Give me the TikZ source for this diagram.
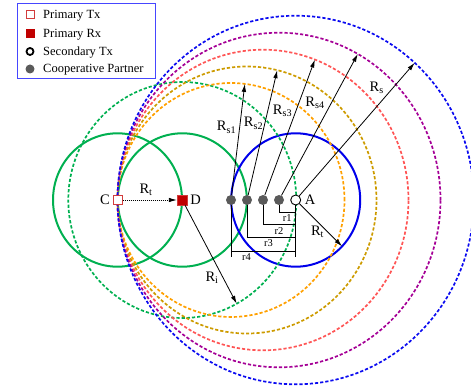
\documentclass[tikz,border=0pt]{standalone}
\usepackage{fontspec}
\setmainfont{Liberation Serif}
\usetikzlibrary{arrows.meta,calc}
\definecolor{cgreen}{RGB}{0,176,80}
\definecolor{cblue}{RGB}{0,0,235}
\definecolor{corange}{RGB}{255,160,0}
\definecolor{cgold}{RGB}{205,155,0}
\definecolor{cred}{RGB}{255,85,85}
\definecolor{cpurple}{RGB}{165,0,150}
\definecolor{cdblue}{RGB}{10,10,240}
\definecolor{cdarkred}{RGB}{192,0,0}
\definecolor{cedgered}{RGB}{210,60,60}
\definecolor{cgray}{RGB}{90,90,90}
\definecolor{clegend}{RGB}{70,70,255}
\tikzset{
 solidring/.style={line width=2pt},
 dashring/.style={line width=1.7pt, dash pattern=on 3.2pt off 2pt},
 arr/.style={line width=0.8pt, -{Latex[length=8pt,width=4.5pt]}},
 dimline/.style={line width=0.8pt},
 txsq/.style={draw=cedgered, fill=white, line width=1pt, minimum size=9pt, inner sep=0pt},
 rxsq/.style={draw=cedgered, fill=cdarkred, line width=0.8pt, minimum size=10pt, inner sep=0pt},
 coop/.style={circle, fill=cgray, minimum size=10pt, inner sep=0pt},
 sectx/.style={circle, draw=black, fill=white, line width=0.9pt, minimum size=10pt, inner sep=0pt},
 lbl/.style={font=\fontsize{14.5}{16}\selectfont, inner sep=0pt, anchor=base},
 rlbl/.style={font=\fontsize{10.5}{12}\selectfont, inner sep=0pt, anchor=base},
 legtext/.style={font=\fontsize{12.5}{14}\selectfont, anchor=base west, inner sep=0pt},
}
\begin{document}
\begin{tikzpicture}[x=1pt,y=-1pt]
\useasboundingbox (0,0) rectangle (471,390);
% centres
\coordinate (cC) at (117.5,200);
\coordinate (cD) at (182.3,200);
\coordinate (cP1) at (231,200);
\coordinate (cP2) at (247,200);
\coordinate (cP3) at (263,200);
\coordinate (cP4) at (279,200);
\coordinate (cA) at (295.7,200);
% solid rings
\draw[solidring, cgreen] (cC) ellipse [x radius=64.5pt, y radius=66.7pt];
\draw[solidring, cgreen] (cD) ellipse [x radius=64.5pt, y radius=66.7pt];
\draw[solidring, cblue] (cA) ellipse [x radius=64.5pt, y radius=66.7pt];
% dashed rings
\draw[dashring, cgreen] (cD) ellipse [x radius=114pt, y radius=118pt];
\draw[dashring, corange] (cP1) ellipse [x radius=113.5pt, y radius=117pt];
\draw[dashring, cgold] (cP2) ellipse [x radius=129.5pt, y radius=133.5pt];
\draw[dashring, cred] (cP3) ellipse [x radius=145.5pt, y radius=150.3pt];
\draw[dashring, cpurple] (cP4) ellipse [x radius=161.5pt, y radius=167.3pt];
\draw[dashring, cdblue] (cA) ellipse [x radius=178.2pt, y radius=184.3pt];
% arrow tips on rings
\coordinate (tS1) at ($(cP1)+(83:113.5pt and 117pt)$);
\coordinate (tS2) at ($(cP2)+(76.5:129.5pt and 133.5pt)$);
\coordinate (tS3) at ($(cP3)+(69.1:145.5pt and 150.3pt)$);
\coordinate (tS4) at ($(cP4)+(60.8:161.5pt and 167.3pt)$);
\coordinate (tS) at ($(cA)+(48.1:178.2pt and 184.3pt)$);
\coordinate (tI) at ($(cD)+(-61.5:114pt and 118pt)$);
\coordinate (tT) at ($(cA)+(-44:64.5pt and 66.7pt)$);
% dimension levels
\coordinate (y1) at (0,212);
\coordinate (y2) at (0,224.5);
\coordinate (y3) at (0,237.5);
\coordinate (y4) at (0,251);
\coordinate (yb) at (0,257);
% nodes
\node[txsq] (C) at (cC) {};
\node[rxsq] (D) at (cD) {};
\node[coop] (P1) at (cP1) {};
\node[coop] (P2) at (cP2) {};
\node[coop] (P3) at (cP3) {};
\node[coop] (P4) at (cP4) {};
\node[sectx] (A) at (cA) {};
% dimension lines
\draw[dimline] (A) -- (A |- yb);
\draw[dimline] (P1) -- (P1 |- yb);
\draw[dimline] (P2) -- (P2 |- y3);
\draw[dimline] (P3) -- (P3 |- y2);
\draw[dimline] (P4) -- (P4 |- y1);
\draw[dimline] (P4 |- y1) -- node[rlbl, pos=0.5, yshift=-9.5pt] (r1) {r1} (A |- y1);
\draw[dimline] (P3 |- y2) -- node[rlbl, pos=0.49, yshift=-9.5pt] (r2) {r2} (A |- y2);
\draw[dimline] (P2 |- y3) -- node[rlbl, pos=0.44, yshift=-9.5pt] (r3) {r3} (A |- y3);
\draw[dimline] (P1 |- y4) -- node[rlbl, pos=0.24, yshift=-9.5pt] (r4) {r4} (A |- y4);
% arrows
\draw[arr, dash pattern=on 1pt off 1pt] (C) -- (D);
\draw[arr] (D) -- (tI);
\draw[arr] (A) -- (tT);
\draw[arr] (P1) -- (tS1);
\draw[arr] (P2) -- (tS2);
\draw[arr] (P3) -- (tS3);
\draw[arr] (P4) -- (tS4);
\draw[arr] (A) -- (tS);
% labels
\node[lbl] (lC) at (105,204.8) {C};
\node[lbl] (lD) at (195.5,204.8) {D};
\node[lbl] (lA) at (310,204.3) {A};
\node[lbl] (lRt1) at (146,193.3) {R\textsubscript{t}};
\node[lbl] (lRi) at (212,281.5) {R\textsubscript{i}};
\node[lbl] (lRt2) at (317.5,235.5) {R\textsubscript{t}};
\node[lbl] (lRs1) at (226.5,131) {R\textsubscript{s1}};
\node[lbl] (lRs2) at (253.5,127) {R\textsubscript{s2}};
\node[lbl] (lRs3) at (282.5,114.5) {R\textsubscript{s3}};
\node[lbl] (lRs4) at (315,106.5) {R\textsubscript{s4}};
\node[lbl] (lRs) at (376.7,91.5) {R\textsubscript{s}};
% legend
\node[draw=clegend, line width=1pt, fill=white, anchor=north west, minimum width=138pt, minimum height=75pt, inner sep=0pt] (legend) at (17,3) {};
\node[txsq, minimum size=8pt] (m1) at (30,15) {};
\node[rxsq, draw=cdarkred, minimum size=8pt] (m2) at (30,33.3) {};
\node[sectx, line width=1.8pt, minimum size=7pt] (m3) at (30,51.5) {};
\node[coop, minimum size=9pt] (m4) at (30,69) {};
\node[legtext] (t1) at (43,19) {Primary Tx};
\node[legtext] (t2) at (43,37.3) {Primary Rx};
\node[legtext] (t3) at (43,55.5) {Secondary Tx};
\node[legtext] (t4) at (43,73) {Cooperative Partner};
\end{tikzpicture}
\end{document}
